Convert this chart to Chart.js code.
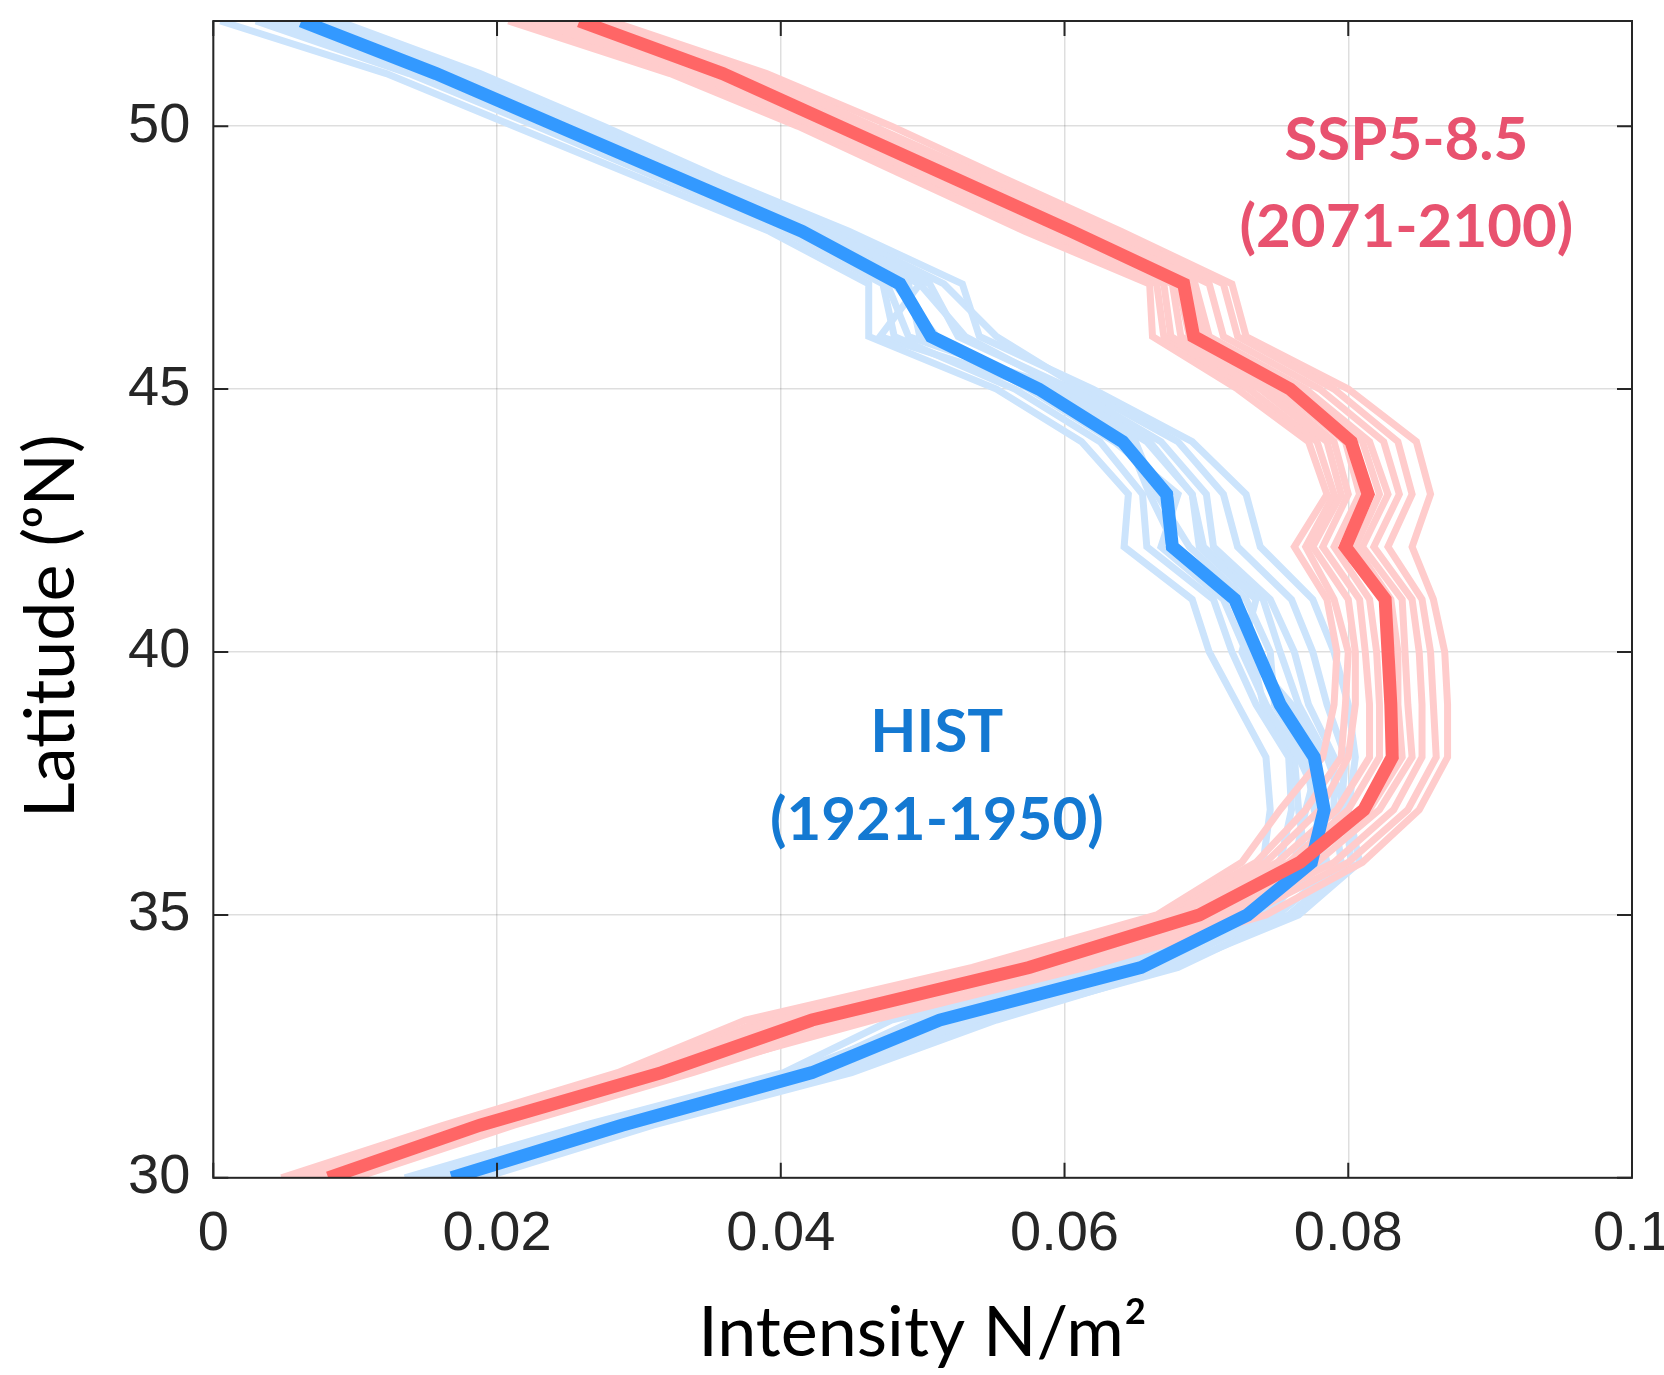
<!DOCTYPE html>
<html>
<head>
<meta charset="utf-8">
<script src="https://cdn.jsdelivr.net/npm/chart.js@4.4.1/dist/chart.umd.min.js"></script>
<style>
  html, body { margin: 0; padding: 0; background: #fff; overflow: hidden; }
  canvas { display: block; }
</style>
</head>
<body>
<canvas id="chart" width="1664" height="1375" style="width:1664px;height:1375px"></canvas>
<script>
// latitude levels (°N), bottom to top
const latitudes = [30, 31, 32, 33, 34, 35, 36, 37, 38, 39, 40, 41, 42, 43, 44, 45, 46, 47, 48, 49, 50, 51, 52];

// ensemble mean intensity (N/m2) at each latitude
const histMean = [0.0168, 0.0288, 0.0422, 0.0512, 0.0654, 0.0729, 0.0774, 0.0783, 0.0776, 0.0752, 0.0736, 0.0720, 0.0676, 0.0672, 0.0641, 0.0582, 0.0506, 0.0484, 0.0415, 0.0329, 0.0243, 0.0157, 0.0062];
const sspMean = [0.0081, 0.0188, 0.0316, 0.0422, 0.0575, 0.0695, 0.0766, 0.0811, 0.0831, 0.0830, 0.0828, 0.0826, 0.0798, 0.0814, 0.0802, 0.0759, 0.0691, 0.0684, 0.0605, 0.0523, 0.0441, 0.0359, 0.0258];

// individual ensemble members
const histMembers = [
    [0.0135, 0.0262, 0.0402, 0.0478, 0.0625, 0.0690, 0.0740, 0.0745, 0.0742, 0.0722, 0.0702, 0.0690, 0.0642, 0.0645, 0.0612, 0.0552, 0.0462, 0.0462, 0.0392, 0.0302, 0.0212, 0.0122, 0.0005],
    [0.0152, 0.0275, 0.0415, 0.0495, 0.0640, 0.0705, 0.0752, 0.0760, 0.0758, 0.0735, 0.0718, 0.0705, 0.0658, 0.0655, 0.0625, 0.0565, 0.0480, 0.0472, 0.0402, 0.0315, 0.0228, 0.0138, 0.0030],
    [0.0160, 0.0282, 0.0428, 0.0520, 0.0660, 0.0735, 0.0785, 0.0776, 0.0770, 0.0748, 0.0745, 0.0728, 0.0688, 0.0665, 0.0650, 0.0590, 0.0498, 0.0490, 0.0420, 0.0335, 0.0250, 0.0165, 0.0070],
    [0.0178, 0.0298, 0.0438, 0.0535, 0.0665, 0.0750, 0.0795, 0.0790, 0.0790, 0.0772, 0.0762, 0.0745, 0.0705, 0.0700, 0.0668, 0.0605, 0.0525, 0.0505, 0.0432, 0.0345, 0.0262, 0.0175, 0.0078],
    [0.0190, 0.0310, 0.0450, 0.0552, 0.0675, 0.0765, 0.0808, 0.0800, 0.0805, 0.0800, 0.0790, 0.0775, 0.0738, 0.0728, 0.0690, 0.0620, 0.0540, 0.0528, 0.0448, 0.0358, 0.0275, 0.0188, 0.0088],
    [0.0145, 0.0270, 0.0408, 0.0505, 0.0648, 0.0718, 0.0762, 0.0770, 0.0780, 0.0760, 0.0728, 0.0712, 0.0668, 0.0680, 0.0635, 0.0575, 0.0510, 0.0480, 0.0410, 0.0322, 0.0235, 0.0148, 0.0040],
    [0.0170, 0.0292, 0.0432, 0.0528, 0.0670, 0.0742, 0.0778, 0.0795, 0.0798, 0.0785, 0.0775, 0.0760, 0.0722, 0.0712, 0.0680, 0.0612, 0.0552, 0.0515, 0.0440, 0.0352, 0.0268, 0.0182, 0.0083],
    [0.0142, 0.0268, 0.0412, 0.0500, 0.0632, 0.0700, 0.0768, 0.0782, 0.0765, 0.0742, 0.0725, 0.0735, 0.0695, 0.0690, 0.0658, 0.0598, 0.0490, 0.0475, 0.0425, 0.0340, 0.0255, 0.0170, 0.0060],
    [0.0185, 0.0302, 0.0442, 0.0545, 0.0680, 0.0758, 0.0802, 0.0798, 0.0785, 0.0765, 0.0752, 0.0740, 0.0698, 0.0690, 0.0660, 0.0600, 0.0530, 0.0498, 0.0428, 0.0340, 0.0258, 0.0172, 0.0075],
    [0.0158, 0.0285, 0.0420, 0.0510, 0.0658, 0.0728, 0.0770, 0.0765, 0.0762, 0.0740, 0.0732, 0.0718, 0.0678, 0.0660, 0.0645, 0.0585, 0.0470, 0.0498, 0.0412, 0.0328, 0.0240, 0.0155, 0.0050]
];
const sspMembers = [
    [0.0048, 0.0162, 0.0285, 0.0375, 0.0535, 0.0665, 0.0725, 0.0752, 0.0782, 0.0790, 0.0792, 0.0785, 0.0762, 0.0785, 0.0772, 0.0722, 0.0662, 0.0660, 0.0572, 0.0492, 0.0412, 0.0322, 0.0208],
    [0.0062, 0.0172, 0.0298, 0.0395, 0.0552, 0.0678, 0.0742, 0.0780, 0.0800, 0.0805, 0.0805, 0.0800, 0.0775, 0.0795, 0.0785, 0.0738, 0.0675, 0.0670, 0.0588, 0.0505, 0.0425, 0.0338, 0.0225],
    [0.0075, 0.0182, 0.0308, 0.0410, 0.0565, 0.0688, 0.0758, 0.0800, 0.0822, 0.0822, 0.0820, 0.0815, 0.0790, 0.0808, 0.0798, 0.0752, 0.0688, 0.0680, 0.0600, 0.0518, 0.0438, 0.0352, 0.0245],
    [0.0088, 0.0195, 0.0322, 0.0432, 0.0585, 0.0705, 0.0778, 0.0822, 0.0845, 0.0842, 0.0840, 0.0838, 0.0810, 0.0828, 0.0815, 0.0770, 0.0702, 0.0692, 0.0615, 0.0532, 0.0450, 0.0368, 0.0265],
    [0.0100, 0.0212, 0.0338, 0.0455, 0.0605, 0.0728, 0.0800, 0.0842, 0.0862, 0.0860, 0.0858, 0.0852, 0.0828, 0.0845, 0.0835, 0.0790, 0.0722, 0.0712, 0.0632, 0.0548, 0.0465, 0.0382, 0.0278],
    [0.0055, 0.0168, 0.0292, 0.0388, 0.0545, 0.0670, 0.0735, 0.0770, 0.0795, 0.0798, 0.0800, 0.0790, 0.0770, 0.0790, 0.0778, 0.0730, 0.0670, 0.0665, 0.0580, 0.0500, 0.0418, 0.0330, 0.0215],
    [0.0095, 0.0205, 0.0330, 0.0465, 0.0615, 0.0742, 0.0810, 0.0850, 0.0870, 0.0870, 0.0868, 0.0860, 0.0845, 0.0858, 0.0848, 0.0800, 0.0728, 0.0718, 0.0640, 0.0558, 0.0478, 0.0390, 0.0280],
    [0.0068, 0.0178, 0.0305, 0.0402, 0.0560, 0.0682, 0.0750, 0.0792, 0.0815, 0.0815, 0.0812, 0.0808, 0.0782, 0.0800, 0.0790, 0.0745, 0.0682, 0.0676, 0.0595, 0.0512, 0.0432, 0.0345, 0.0235],
    [0.0082, 0.0190, 0.0315, 0.0425, 0.0578, 0.0698, 0.0770, 0.0815, 0.0838, 0.0835, 0.0835, 0.0830, 0.0805, 0.0822, 0.0810, 0.0765, 0.0698, 0.0688, 0.0610, 0.0528, 0.0446, 0.0362, 0.0255],
    [0.0092, 0.0200, 0.0325, 0.0442, 0.0595, 0.0715, 0.0790, 0.0832, 0.0852, 0.0852, 0.0850, 0.0845, 0.0818, 0.0836, 0.0825, 0.0780, 0.0712, 0.0702, 0.0625, 0.0540, 0.0458, 0.0375, 0.0272]
];

const xTicks = [0, 0.02, 0.04, 0.06, 0.08, 0.1];
const yTicks = [30, 35, 40, 45, 50];

const seriesLabels = [['SSP5-8.5', '(2071-2100)'], ['HIST', '(1921-1950)']];

function toPoints(values) {
    return values.map((v, i) => ({ x: v, y: latitudes[i] }));
}

function lineSet(values, color, width, order) {
    return {
        data: toPoints(values),
        showLine: true,
        borderColor: color,
        borderWidth: width,
        pointRadius: 0,
        fill: false,
        tension: 0,
        borderJoinStyle: 'miter',
        borderCapStyle: 'butt',
        order: order
    };
}

const datasets = [];
datasets.push(lineSet(sspMean, 'rgb(255,102,102)', 13, 0));
datasets.push(lineSet(histMean, 'rgb(51,153,255)', 13, 1));
sspMembers.forEach(m => datasets.push(lineSet(m, 'rgb(255,204,204)', 7, 2)));
histMembers.forEach(m => datasets.push(lineSet(m, 'rgb(204,228,252)', 7, 3)));

// box, inward ticks and text labels
const boxPlugin = {
    id: 'box',
    afterDatasetsDraw(chart) {
        const ctx = chart.ctx;
        const a = chart.chartArea;
        const xs = chart.scales.x, ys = chart.scales.y;
        const tl = 15;
        ctx.save();
        ctx.strokeStyle = '#262626';
        ctx.lineWidth = 2;
        ctx.strokeRect(a.left, a.top, a.right - a.left, a.bottom - a.top);
        ctx.beginPath();
        xTicks.forEach(t => {
            const px = xs.getPixelForValue(t);
            ctx.moveTo(px, a.bottom); ctx.lineTo(px, a.bottom - tl);
            ctx.moveTo(px, a.top); ctx.lineTo(px, a.top + tl);
        });
        yTicks.forEach(t => {
            const py = ys.getPixelForValue(t);
            ctx.moveTo(a.left, py); ctx.lineTo(a.left + tl, py);
            ctx.moveTo(a.right, py); ctx.lineTo(a.right - tl, py);
        });
        ctx.stroke();

        ctx.textAlign = 'center';
        ctx.textBaseline = 'middle';
        ctx.font = 'bold 60px Lato, "Open Sans", sans-serif';
        ctx.fillStyle = '#e8526f';
        ctx.fillText(seriesLabels[0][0], xs.getPixelForValue(0.0841), ys.getPixelForValue(49.73));
        ctx.fillText(seriesLabels[0][1], xs.getPixelForValue(0.0841), ys.getPixelForValue(48.07));
        ctx.fillStyle = '#1479d2';
        ctx.fillText(seriesLabels[1][0], xs.getPixelForValue(0.0510), ys.getPixelForValue(38.47));
        ctx.fillText(seriesLabels[1][1], xs.getPixelForValue(0.0510), ys.getPixelForValue(36.79));
        ctx.restore();
    }
};

const tickFont = { family: '"Liberation Sans Narrow", "Liberation Sans", Arial, sans-serif', size: 56 };
const titleFont = { family: 'Lato, "Noto Sans", sans-serif', size: 70 };

new Chart(document.getElementById('chart').getContext('2d'), {
    type: 'scatter',
    data: { datasets: datasets },
    options: {
        responsive: false,
        animation: false,
        events: [],
        layout: {
            padding: { top: 21, left: 0, right: 32, bottom: 0 }
        },
        plugins: {
            legend: { display: false },
            tooltip: { enabled: false }
        },
        scales: {
            x: {
                type: 'linear',
                min: 0,
                max: 0.1,
                afterBuildTicks: scale => { scale.ticks = xTicks.map(v => ({ value: v })); },
                afterFit: scale => { scale.paddingRight = 0; scale.paddingLeft = 0; },
                grid: {
                    color: 'rgba(0,0,0,0.13)',
                    lineWidth: 1.5,
                    drawTicks: false
                },
                border: { display: false },
                ticks: {
                    color: '#262626',
                    font: tickFont,
                    padding: 23,
                    maxRotation: 0,
                    callback: v => String(+Number(v).toFixed(2))
                },
                title: {
                    display: true,
                    text: 'Intensity N/m²',
                    color: '#000',
                    font: titleFont,
                    padding: { top: 0, bottom: 0 }
                }
            },
            y: {
                type: 'linear',
                min: 30,
                max: 52,
                afterBuildTicks: scale => { scale.ticks = yTicks.map(v => ({ value: v })); },
                afterFit: scale => { scale.paddingTop = 0; },
                grid: {
                    color: 'rgba(0,0,0,0.13)',
                    lineWidth: 1.5,
                    drawTicks: false
                },
                border: { display: false },
                ticks: {
                    color: '#262626',
                    font: tickFont,
                    padding: 23
                },
                title: {
                    display: true,
                    text: 'Latitude (ᵒN)   ',
                    color: '#000',
                    font: titleFont,
                    padding: { top: 9, bottom: 12 }
                }
            }
        }
    },
    plugins: [boxPlugin]
});
</script>
</body>
</html>
